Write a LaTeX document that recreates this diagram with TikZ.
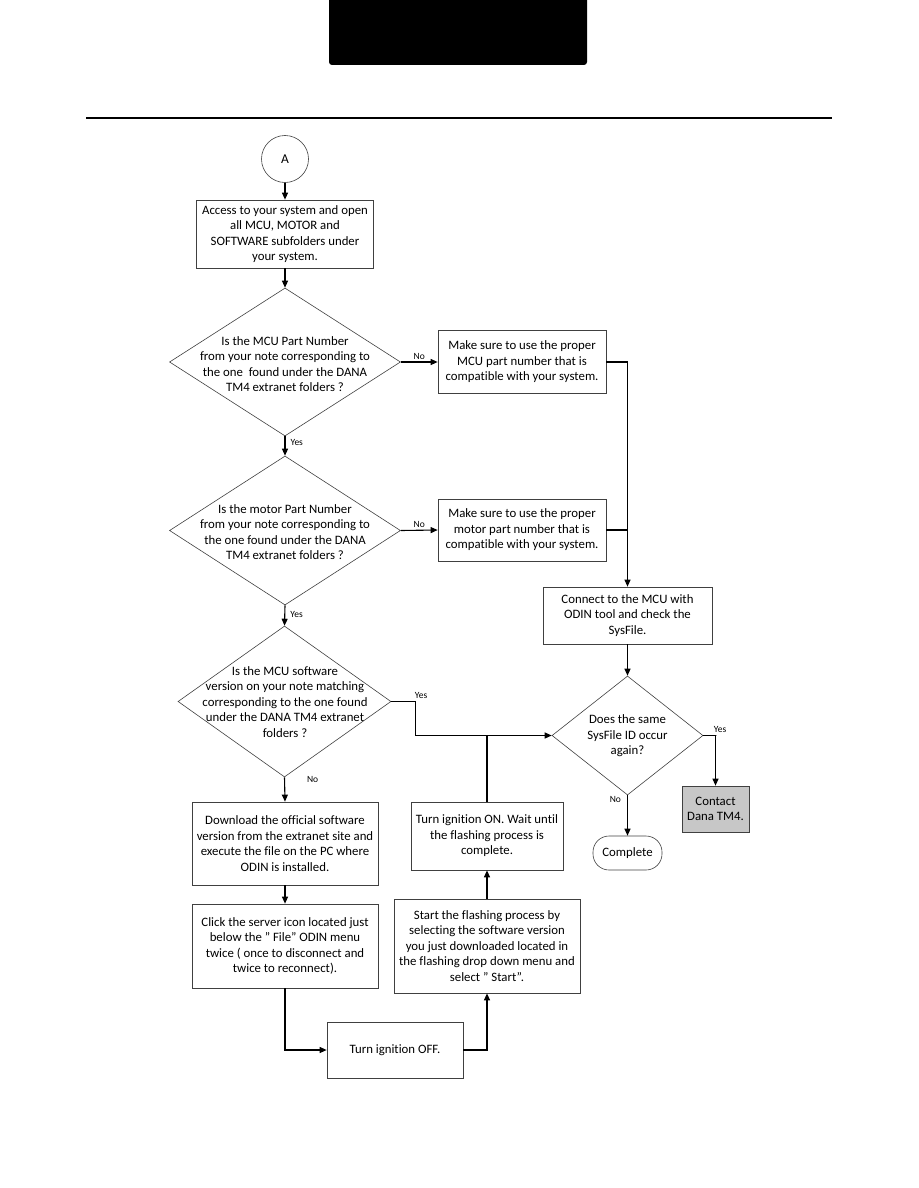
\documentclass[tikz,border=0pt]{standalone}
\usepackage{fontspec}
\setmainfont{Carlito}[Ligatures={TeX,NoCommon}]
\usetikzlibrary{shapes.geometric,arrows.meta}
\begin{document}
\begin{tikzpicture}[x=1pt,y=-1pt,
  box/.style={draw=black!75, line width=0.7pt, align=center, inner sep=0pt, font=\fontsize{12.8}{15.5}\selectfont},
  dia/.style={draw=black!75, diamond, line width=0.6pt, inner sep=0pt},
  txt/.style={align=center, inner sep=0pt, font=\fontsize{12.8}{15.5}\selectfont},
  lab/.style={font=\fontsize{9.5}{10}\selectfont, inner sep=1pt},
  conn/.style={line width=1.1pt},
  arr/.style={conn, -{Triangle[length=7pt,width=6pt]}}]
\path[use as bounding box] (0,0) rectangle (918,1188);
% header
\fill (329,0) {[rounded corners=3pt] -- (329,65) -- (587,65)} -- (587,0) -- cycle;
\draw[line width=2.5pt] (86,118) -- (832,118);
% nodes
\node[draw=black!75, circle, line width=0.6pt, minimum size=47pt, inner sep=0pt, font=\fontsize{13.5}{15}\selectfont] (A) at (285,159) {A};
\node[box, minimum width=177pt, minimum height=68pt] (b1) at (285,234)
  {Access to your system and open\\all MCU, MOTOR and\\SOFTWARE subfolders under\\your system.};
\node[dia, minimum width=231pt, minimum height=148pt] (d1) at (285,362) {};
\node[txt] (d1t) at (285,364) {Is the MCU Part Number\\from your note corresponding to\\the one\ \ found under the DANA\\TM4 extranet folders ?};
\node[box, minimum width=168pt, minimum height=63pt] (m1) at (522,362)
  {Make sure to use the proper\\MCU part number that is\\compatible with your system.};
\node[dia, minimum width=231pt, minimum height=149pt] (d2) at (285,530.5) {};
\node[txt] (d2t) at (285,532) {Is the motor Part Number\\from your note corresponding to\\the one found under the DANA\\TM4 extranet folders ?};
\node[box, minimum width=168pt, minimum height=62pt] (m2) at (522,530)
  {Make sure to use the proper\\motor part number that is\\compatible with your system.};
\node[box, minimum width=169pt, minimum height=57pt] (cn) at (627.5,615.5)
  {Connect to the MCU with\\ODIN tool and check the\\SysFile.};
\node[dia, minimum width=213pt, minimum height=151pt] (d3) at (284.5,701.5) {};
\node[txt] (d3t) at (285,702) {Is the MCU software\\version on your note matching\\corresponding to the one found\\under the DANA TM4 extranet\\folders ?};
\node[dia, minimum width=151pt, minimum height=119pt] (d4) at (627.5,735.5) {};
\node[txt] (d4t) at (627.5,736) {Does the same\\SysFile ID occur\\again?};
\node[box, fill=black!22, minimum width=67pt, minimum height=46pt] (ct) at (715.5,809) {Contact\\Dana TM4.};
\node[draw=black!75, line width=0.6pt, rounded corners=16pt, minimum width=69pt, minimum height=34pt, inner sep=0pt, font=\fontsize{12.8}{15}\selectfont] (cp) at (627.5,853) {Complete};
\node[box, minimum width=186pt, minimum height=83pt] (dl) at (285,843.5)
  {Download the official software\\version from the extranet site and\\execute the file on the PC where\\ODIN is installed.};
\node[box, minimum width=186pt, minimum height=84pt] (ck) at (285,946)
  {Click the server icon located just\\below the '' File'' ODIN menu\\twice ( once to disconnect and\\twice to reconnect).};
\node[box, minimum width=136pt, minimum height=56pt] (off) at (395,1050) {Turn ignition OFF.};
\node[box, minimum width=186pt, minimum height=94pt] (st) at (487,946)
  {Start the flashing process by\\selecting the software version\\you just downloaded located in\\the flashing drop down menu and\\select '' Start''.};
\node[box, minimum width=152pt, minimum height=68pt] (on) at (487,836)
  {Turn ignition ON. Wait until\\the flashing process is\\complete.};
% connectors
\draw[arr] (A) -- (b1);
\draw[arr] (b1) -- (d1.north);
\draw[arr] (d1.east) -- node[lab, above, pos=0.5, yshift=1pt] {No} (m1.west);
\draw[arr] (d1.south) -- node[lab, right, pos=0.3, xshift=4pt] {Yes} (d2.north);
\draw[arr] (m1.east) -| (cn.north);
\draw[conn] (m2.east) -- (m2.east -| cn.north);
\draw[arr] (d2.east) -- node[lab, above, pos=0.5, yshift=1pt] {No} (m2.west);
\draw[arr] (d2.south) -- node[lab, right, pos=0.45, xshift=4pt] {Yes} (d3.north);
\draw[arr] (cn.south) -- (d4.north);
\draw[arr] (d3.east) -- node[lab, above right, pos=1, xshift=-2pt, yshift=1pt] {Yes} ++(24,0) |- (d4.west);
\draw[conn] (on.north) -- (on.north |- d4.west);
\draw[arr] (d4.east) -- node[lab, above right, pos=1, xshift=-4pt, yshift=1pt] {Yes} ++(13,0) -| (ct.north);
\draw[arr] (d4.south) -- node[lab, left, pos=0.1, xshift=-5pt] {No} (cp.north);
\draw[arr] (d3.south) -- node[lab, right, pos=0.1, xshift=21pt] {No} (dl.north);
\draw[arr] (dl) -- (ck);
\draw[arr] (ck.south) |- (off.west);
\draw[arr] (off.east) -| (st.south);
\draw[arr] (st) -- (on);
\end{tikzpicture}
\end{document}
